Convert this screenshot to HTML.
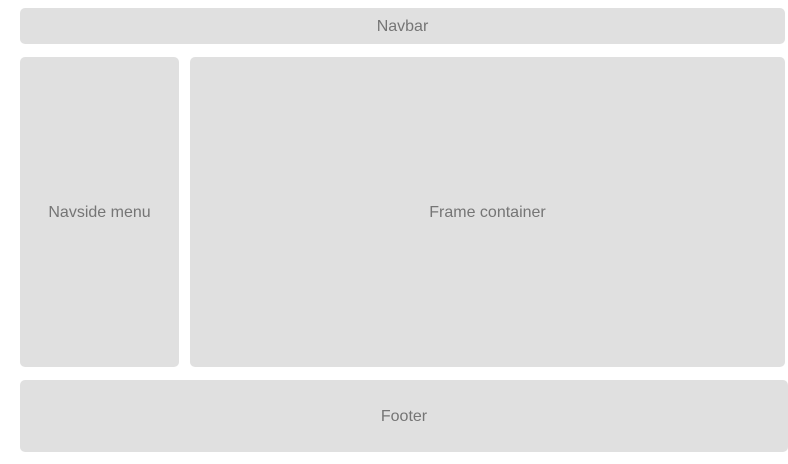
<!DOCTYPE html>
<html>
<head>
<meta charset="utf-8">
<style>
  html, body { margin: 0; padding: 0; background: #ffffff; }
  body { width: 788px; height: 464px; position: relative; overflow: hidden;
    font-family: "Liberation Sans", sans-serif; }
  .box { position: absolute; background: #e0e0e0; border-radius: 5px;
    display: flex; align-items: center; justify-content: center;
    color: #757575; font-size: 16px; padding-top: 2px; box-sizing: border-box; }
</style>
</head>
<body>
  <div class="box" style="left:20px;top:8px;width:765px;height:36px;">Navbar</div>
  <div class="box" style="left:20px;top:57px;width:159px;height:310px;">Navside menu</div>
  <div class="box" style="left:190px;top:57px;width:595px;height:310px;">Frame container</div>
  <div class="box" style="left:20px;top:380px;width:768px;height:72px;">Footer</div>
</body>
</html>
